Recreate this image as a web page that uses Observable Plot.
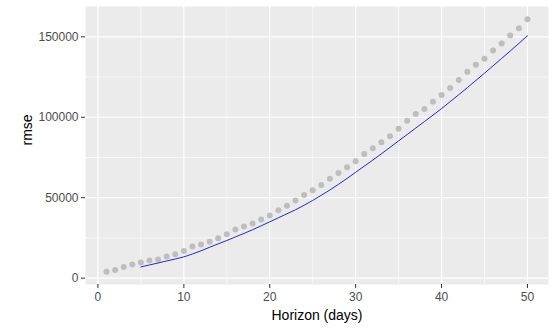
<!DOCTYPE html>
<html>
<head>
<meta charset="utf-8">
<script src="https://cdn.jsdelivr.net/npm/d3@7"></script>
<script src="https://cdn.jsdelivr.net/npm/@observablehq/plot@0.6"></script>
<style>
  html, body { margin: 0; padding: 0; background: #fff; }
  #chart svg { display: block; font-family: "Liberation Sans", Arial, sans-serif; }
</style>
</head>
<body>
<div id="chart"></div>
<script>
// Gray points: horizon 1..50
const pointHorizon = d3.range(1, 51);
const pointRmse = [3900, 5100, 7000, 8500, 9700, 11000, 11600, 13400, 14900, 16900,
  19700, 20900, 22600, 24800, 27300, 30200, 32100, 34000, 36500, 39000,
  42200, 45000, 48200, 51700, 54600, 57900, 61800, 65300, 69000, 72700,
  77100, 80800, 84500, 88200, 92900, 97900, 102100, 105200, 109700, 113900,
  118200, 123200, 128300, 132700, 136400, 141500, 145900, 150900, 155400, 161000];

// Blue line: horizon 5..50
const lineHorizon = d3.range(5, 51);
const lineRmse = [7000, 8200, 9400, 10700, 11900, 13200, 15000, 17000, 19200, 21300,
  23400, 25600, 27800, 30100, 32500, 35000, 37500, 40000, 42500, 45300,
  48300, 51500, 54800, 58300, 62000, 65800, 69600, 73400, 77300, 81300,
  85300, 89300, 93300, 97300, 101300, 105400, 109700, 114000, 118400, 122900,
  127400, 132000, 136600, 141200, 145900, 150700];

const xMajor = [0, 10, 20, 30, 40, 50];
const xMinor = [5, 15, 25, 35, 45];
const yMajor = [0, 50000, 100000, 150000];
const yMinor = [25000, 75000, 125000];
const xTitle = "Horizon (days)";
const yTitle = "rmse";

const points = pointHorizon.map((h, i) => ({h, v: pointRmse[i]}));
const line = lineHorizon.map((h, i) => ({h, v: lineRmse[i]}));

// ggplot-style 5% expansion
const allX = [...pointHorizon, ...lineHorizon];
const allY = [...pointRmse, ...lineRmse];
const [x0, x1] = d3.extent(allX);
const [y0, y1] = d3.extent(allY);
const ex = (x1 - x0) * 0.05, ey = (y1 - y0) * 0.05;

const chart = Plot.plot({
  width: 560,
  height: 330,
  marginLeft: 85,
  marginRight: 12,
  marginTop: 6,
  marginBottom: 46,
  style: {fontFamily: "Liberation Sans, Arial, sans-serif", background: "#fff"},
  x: {domain: [x0 - ex, x1 + ex]},
  y: {domain: [y0 - ey, y1 + ey]},
  marks: [
    Plot.frame({fill: "#EBEBEB", stroke: null}),
    Plot.ruleX(xMinor, {stroke: "#fff", strokeWidth: 0.6}),
    Plot.ruleY(yMinor, {stroke: "#fff", strokeWidth: 0.6}),
    Plot.ruleX(xMajor, {stroke: "#fff", strokeWidth: 1.2}),
    Plot.ruleY(yMajor, {stroke: "#fff", strokeWidth: 1.2}),
    Plot.axisX(xMajor, {tickSize: 4, tickPadding: 4, stroke: "#333", fill: "#4D4D4D", fontSize: 12, label: null}),
    Plot.axisY(yMajor, {tickSize: 4, tickPadding: 3, stroke: "#333", fill: "#4D4D4D", fontSize: 12, label: null, tickFormat: d3.format("d")}),
    Plot.dot(points, {x: "h", y: "v", r: 3, fill: "#BEBEBE", stroke: null}),
    Plot.line(line, {x: "h", y: "v", stroke: "#1010D0", strokeWidth: 0.9}),
    Plot.text([xTitle], {frameAnchor: "bottom", dy: 31, text: d => d, fontSize: 14, fill: "#000", lineAnchor: "middle"}),
    Plot.text([yTitle], {frameAnchor: "left", dx: -58, rotate: -90, text: d => d, fontSize: 14, fill: "#000", lineAnchor: "middle"})
  ]
});
document.getElementById("chart").appendChild(chart);
</script>
</body>
</html>
